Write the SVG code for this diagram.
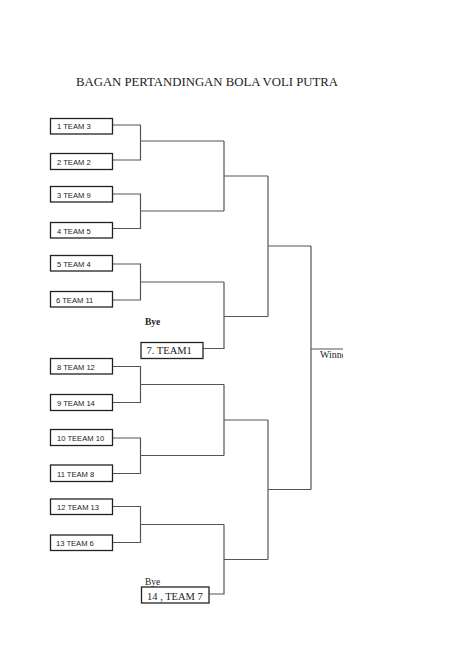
<svg xmlns="http://www.w3.org/2000/svg" width="474" height="669" viewBox="0 0 474 669">
<defs>
<style>
.box{fill:#fff;stroke:#222;stroke-width:1.3}
.lbl{font-family:"Liberation Sans",Arial,sans-serif;font-size:7.6px;fill:#222}
.ser{font-family:"Liberation Serif","Times New Roman",serif;fill:#222}
.ln{fill:none;stroke:#555;stroke-width:1.2}
</style>
<clipPath id="wclip"><rect x="300" y="340" width="43" height="30"/></clipPath>
</defs>
<rect width="474" height="669" fill="#fff"/>
<text class="ser" x="76" y="86" font-size="12.5" textLength="262" lengthAdjust="spacingAndGlyphs">BAGAN PERTANDINGAN BOLA VOLI PUTRA</text>

<g id="connectors">
<path class="ln" d="M112 125H140.5V160H112M140.5 141H224"/>
<path class="ln" d="M112 194H140.5V228.5H112M140.5 211H224"/>
<path class="ln" d="M112 264H140.5V300H112M140.5 282H224"/>
<path class="ln" d="M202.5 348.5H224V282"/>
<path class="ln" d="M224 141V211M224 176H268"/>
<path class="ln" d="M268 176V316.5M224 316.5H268M268 246H311"/>
<path class="ln" d="M112 366.5H140.5V402.5H112M140.5 384.5H224"/>
<path class="ln" d="M112 438H140.5V473.5H112M140.5 455.5H224"/>
<path class="ln" d="M224 384.5V455.5M224 420H268"/>
<path class="ln" d="M112 506.5H140.5V542.5H112M140.5 524.5H224"/>
<path class="ln" d="M209 594H224V524.5M224 559.5H268"/>
<path class="ln" d="M268 420V559.5M268 489.5H311"/>
<path class="ln" d="M311 246V489.5M311 349H343"/>
</g>

<g id="t1"><rect class="box" x="50.5" y="118.5" width="62" height="15.5"/><text class="lbl" x="57" y="129">1  TEAM 3</text></g>
<g id="t2"><rect class="box" x="50.5" y="153.5" width="62" height="16"/><text class="lbl" x="57" y="164.5">2 TEAM 2</text></g>
<g id="t3"><rect class="box" x="50.5" y="186.5" width="62" height="15.5"/><text class="lbl" x="57" y="197.5">3 TEAM 9</text></g>
<g id="t4"><rect class="box" x="50.5" y="222.5" width="62" height="15.5"/><text class="lbl" x="57" y="233.5">4 TEAM 5</text></g>
<g id="t5"><rect class="box" x="50.5" y="255.5" width="62" height="15.5"/><text class="lbl" x="57" y="266.5">5 TEAM 4</text></g>
<g id="t6"><rect class="box" x="50.5" y="291.5" width="62" height="15.5"/><text class="lbl" x="56" y="302.5">6 TEAM 11</text></g>
<g id="bye1"><text class="ser" x="145" y="325" font-size="9.5" font-weight="bold">Bye</text></g>
<g id="t7"><rect class="box" x="141" y="342.5" width="62" height="16"/><text class="ser" x="146.5" y="354" font-size="10.5">7. TEAM1</text></g>
<g id="t8"><rect class="box" x="50.5" y="358.5" width="62" height="15.5"/><text class="lbl" x="57" y="369.5">8 TEAM 12</text></g>
<g id="t9"><rect class="box" x="50.5" y="394.5" width="62" height="16"/><text class="lbl" x="57" y="406">9 TEAM 14</text></g>
<g id="t10"><rect class="box" x="50.5" y="429.5" width="62" height="16"/><text class="lbl" x="57" y="441">10 TEEAM 10</text></g>
<g id="t11"><rect class="box" x="50.5" y="465" width="62" height="16.5"/><text class="lbl" x="57" y="476.5">11 TEAM 8</text></g>
<g id="t12"><rect class="box" x="50.5" y="499" width="62" height="15.5"/><text class="lbl" x="57" y="510">12 TEAM 13</text></g>
<g id="t13"><rect class="box" x="50.5" y="535" width="62" height="15.5"/><text class="lbl" x="56" y="546">13 TEAM 6</text></g>
<g id="bye2"><text class="ser" x="145" y="584.5" font-size="9.5">Bye</text></g>
<g id="t14"><rect class="box" x="141.5" y="587" width="67.5" height="16"/><text class="ser" x="147" y="599.5" font-size="10.5">14 , TEAM 7</text></g>
<g id="winner"><text class="ser" x="320" y="358" font-size="10" clip-path="url(#wclip)">Winner</text></g>
</svg>
